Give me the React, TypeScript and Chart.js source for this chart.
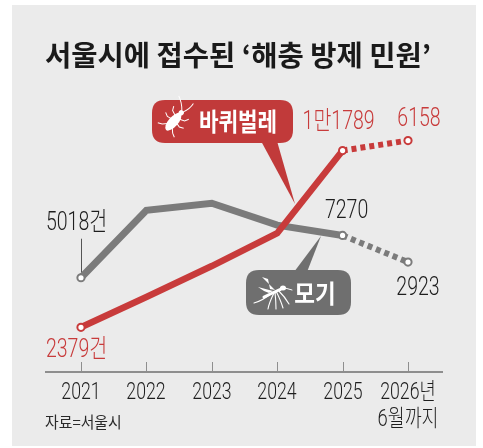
import React, { useEffect, useRef } from "react";
import { Chart, registerables } from "chart.js";
Chart.register(...registerables);

// ---- data ----
const years = [2021, 2022, 2023, 2024, 2025, 2026];
// 2026 plotted position (partial year, drawn dashed)
const roach = [2379, 3990, 5640, 7390, 11789, 12320];
const mosquito = [5018, 8610, 8980, 7820, 7270, 5850];
const roachLabels = ["2379건", "", "", "", "1만1789", "6158"];
const mosquitoLabels = ["5018건", "", "", "", "7270", "2923"];
const tickLabels = ["2021", "2022", "2023", "2024", "2025", "2026년"];
const tickSubLabels = ["", "", "", "", "", "6월까지"];
const titleText = "서울시에 접수된 ‘해충 방제 민원’";
const sourceText = "자료=서울시";
const roachName = "바퀴벌레";
const mosquitoName = "모기";

const RED = "#c83b3b";
const RED_BADGE = "#c13a3a";
const GRAY = "#7b7b7b";
const GRAY_BADGE = "#6f6f6f";
const TEXT = "#1e1e1e";
const DIG = "Roboto, 'Noto Sans CJK KR', sans-serif";
const KR = "'Noto Sans CJK KR', sans-serif";

function txt(
  ctx: CanvasRenderingContext2D,
  s: string,
  x: number,
  y: number,
  font: string,
  color: string,
  align: "left" | "center" | "right",
  sx = 1,
  fitWidth = 0
) {
  ctx.save();
  ctx.font = font;
  ctx.fillStyle = color;
  ctx.textBaseline = "middle";
  ctx.textAlign = "left";
  const raw = ctx.measureText(s).width;
  if (fitWidth > 0) sx = fitWidth / raw;
  const w = raw * sx;
  const left = align === "left" ? x : align === "center" ? x - w / 2 : x - w;
  ctx.translate(left, y);
  ctx.scale(sx, 1);
  ctx.fillText(s, 0, 0);
  ctx.restore();
}

function roundRect(ctx: CanvasRenderingContext2D, x: number, y: number, w: number, h: number, r: number) {
  ctx.beginPath();
  ctx.moveTo(x + r, y);
  ctx.lineTo(x + w - r, y);
  ctx.quadraticCurveTo(x + w, y, x + w, y + r);
  ctx.lineTo(x + w, y + h - r);
  ctx.quadraticCurveTo(x + w, y + h, x + w - r, y + h);
  ctx.lineTo(x + r, y + h);
  ctx.quadraticCurveTo(x, y + h, x, y + h - r);
  ctx.lineTo(x, y + r);
  ctx.quadraticCurveTo(x, y, x + r, y);
  ctx.closePath();
}

function drawRoach(ctx: CanvasRenderingContext2D, cx: number, cy: number) {
  ctx.save();
  ctx.translate(cx, cy);
  ctx.rotate(-0.85);
  ctx.fillStyle = "#fff";
  ctx.strokeStyle = "#fff";
  ctx.lineWidth = 1;
  ctx.beginPath();
  ctx.ellipse(-1, 0, 11, 4.8, 0, 0, Math.PI * 2);
  ctx.fill();
  ctx.beginPath();
  ctx.ellipse(11, 0, 2.6, 2.6, 0, 0, Math.PI * 2);
  ctx.fill();
  const legs = [
    [5, 3, 7, 8, 11, 10],
    [0, 4, -1, 8, 1, 12],
    [-6, 3, -10, 7, -12, 11],
    [5, -3, 7, -8, 11, -10],
    [0, -4, -1, -8, 1, -12],
    [-6, -3, -10, -7, -12, -11],
  ];
  legs.forEach((l) => {
    ctx.beginPath();
    ctx.moveTo(l[0], l[1]);
    ctx.lineTo(l[2], l[3]);
    ctx.lineTo(l[4], l[5]);
    ctx.stroke();
  });
  ctx.beginPath();
  ctx.moveTo(13, -1);
  ctx.quadraticCurveTo(19, -6, 22, -13);
  ctx.moveTo(13, 1);
  ctx.quadraticCurveTo(20, 4, 26, 3);
  ctx.stroke();
  ctx.restore();
}

function drawMosquito(ctx: CanvasRenderingContext2D, cx: number, cy: number) {
  ctx.save();
  ctx.translate(cx, cy);
  ctx.fillStyle = "#fff";
  ctx.strokeStyle = "#fff";
  // wings
  ctx.beginPath();
  ctx.moveTo(3, -2);
  ctx.lineTo(-10, -15);
  ctx.lineTo(-4, -13);
  ctx.lineTo(-2, -3);
  ctx.closePath();
  ctx.fill();
  ctx.beginPath();
  ctx.moveTo(1, -1);
  ctx.lineTo(-14, -5);
  ctx.lineTo(-8, -1);
  ctx.lineTo(-3, 1);
  ctx.closePath();
  ctx.fill();
  // body
  ctx.lineWidth = 3;
  ctx.lineCap = "round";
  ctx.beginPath();
  ctx.moveTo(-8, 5);
  ctx.lineTo(9, -3);
  ctx.stroke();
  ctx.beginPath();
  ctx.ellipse(11, -4, 3, 2.5, 0, 0, Math.PI * 2);
  ctx.fill();
  ctx.lineWidth = 1;
  ctx.beginPath();
  ctx.moveTo(13, -4);
  ctx.lineTo(20, -2);
  ctx.stroke();
  // legs
  ctx.lineWidth = 1.1;
  const legs = [
    [0, 1, -10, 9, -18, 11],
    [2, 1, -3, 11, -4, 17],
    [3, 0, 4, 10, 4, 17],
    [4, -1, 9, 9, 11, 16],
    [6, -2, 13, 5, 17, 12],
  ];
  legs.forEach((l) => {
    ctx.beginPath();
    ctx.moveTo(l[0], l[1]);
    ctx.quadraticCurveTo(l[2], l[3], l[4], l[5]);
    ctx.stroke();
  });
  ctx.restore();
}

const decor = {
  id: "decor",
  beforeDraw(chart: any) {
    const ctx = chart.ctx as CanvasRenderingContext2D;
    ctx.save();
    ctx.fillStyle = "#ffffff";
    ctx.fillRect(0, 0, chart.width, chart.height);
    ctx.fillStyle = "#ebebeb";
    ctx.fillRect(12, 5, 464, 441);
    ctx.restore();
  },
  beforeDatasetsDraw(chart: any) {
    const ctx = chart.ctx as CanvasRenderingContext2D;
    const xs = chart.scales.x;
    const ys = chart.scales.y;
    const area = chart.chartArea;
    const y0 = ys.getPixelForValue(0);
    ctx.save();
    ctx.strokeStyle = "#8e8e8e";
    ctx.lineWidth = 2;
    ctx.beginPath();
    ctx.moveTo(area.left, y0);
    ctx.lineTo(area.right, y0);
    ctx.stroke();
    ctx.lineWidth = 1;
    years.forEach((yr, i) => {
      const px = Math.round(xs.getPixelForValue(yr)) + 0.5;
      ctx.beginPath();
      ctx.moveTo(px, y0 - 10);
      ctx.lineTo(px, y0);
      ctx.stroke();
      txt(ctx, tickLabels[i], px - 0.5, y0 + 21, `300 23px ${DIG}`, TEXT, "center", 0.77);
      if (tickSubLabels[i]) {
        txt(ctx, tickSubLabels[i], px - 0.5, y0 + 48, `300 23px ${DIG}`, TEXT, "center", 0.8);
      }
    });
    txt(ctx, sourceText, area.left, y0 + 50, `16px ${KR}`, "#2a2a2a", "left", 0.93);

    txt(ctx, titleText, 45, 55, `bold 28px ${KR}`, "#1a1a1a", "left", 1, 386);

    const gm = chart.getDatasetMeta(1).data[0];
    ctx.strokeStyle = "#555";
    ctx.lineWidth = 1;
    ctx.beginPath();
    ctx.moveTo(Math.round(gm.x) + 0.5, gm.y - 39);
    ctx.lineTo(Math.round(gm.x) + 0.5, gm.y - 5);
    ctx.stroke();

    ctx.fillStyle = RED_BADGE;
    ctx.beginPath();
    ctx.moveTo(261, 141);
    ctx.lineTo(277, 141);
    ctx.lineTo(295, 204);
    ctx.closePath();
    ctx.fill();
    ctx.fillStyle = GRAY_BADGE;
    ctx.beginPath();
    ctx.moveTo(294, 272);
    ctx.lineTo(307, 272);
    ctx.lineTo(321, 236);
    ctx.closePath();
    ctx.fill();
    ctx.restore();
  },
  afterDatasetsDraw(chart: any) {
    const ctx = chart.ctx as CanvasRenderingContext2D;
    const rSolid = chart.getDatasetMeta(0).data;
    const gSolid = chart.getDatasetMeta(1).data;
    const rDash = chart.getDatasetMeta(2).data;
    const gDash = chart.getDatasetMeta(3).data;
    const F = `300 25px ${DIG}`;
    txt(ctx, roachLabels[0], rSolid[0].x - 35, rSolid[0].y + 23, F, RED, "left", 0.78);
    txt(ctx, roachLabels[4], rSolid[4].x - 4, rSolid[4].y - 28, F, RED, "center", 0.78);
    txt(ctx, roachLabels[5], rDash[1].x + 11, rDash[1].y - 21, F, RED, "center", 0.78);
    txt(ctx, mosquitoLabels[0], gSolid[0].x - 35, gSolid[0].y - 54, F, TEXT, "left", 0.78);
    txt(ctx, mosquitoLabels[4], gSolid[4].x + 4, gSolid[4].y - 24, F, TEXT, "center", 0.78);
    txt(ctx, mosquitoLabels[5], gDash[1].x + 10, gDash[1].y + 27, F, TEXT, "center", 0.78);

    ctx.save();
    ctx.fillStyle = RED_BADGE;
    roundRect(ctx, 152, 100, 141, 43, 13);
    ctx.fill();
    drawRoach(ctx, 174, 121);
    txt(ctx, roachName, 238, 121, `bold 25px ${KR}`, "#fff", "center", 0.85);

    ctx.fillStyle = GRAY_BADGE;
    roundRect(ctx, 246, 270, 105, 45, 13);
    ctx.fill();
    drawMosquito(ctx, 272, 292);
    txt(ctx, mosquitoName, 315, 293, `bold 25px ${KR}`, "#fff", "center", 0.9);
    ctx.restore();
  },
};

const pts = (vals: number[], from: number, to: number) =>
  years.slice(from, to).map((y, i) => ({ x: y, y: vals[from + i] }));

export default function App() {
  const ref = useRef<HTMLCanvasElement>(null);
  useEffect(() => {
    document.body.style.margin = "0";
    const canvas = ref.current!;
    const common = {
      borderCapStyle: "butt" as const,
      borderJoinStyle: "miter" as const,
      pointBackgroundColor: "#ffffff",
      pointBorderWidth: 2,
      pointHoverRadius: 0,
      tension: 0,
      fill: false,
    };
    const chart = new Chart(canvas, {
      type: "line",
      data: {
        datasets: [
          {
            ...common,
            data: pts(roach, 0, 5),
            borderColor: RED,
            borderWidth: 6.5,
            pointBorderColor: RED,
            pointRadius: [3.6, 0, 0, 0, 3.6],
          },
          {
            ...common,
            data: pts(mosquito, 0, 5),
            borderColor: GRAY,
            borderWidth: 7,
            pointBorderColor: GRAY,
            pointRadius: [3.6, 0, 0, 0, 3.6],
          },
          {
            ...common,
            data: pts(roach, 4, 6),
            borderColor: RED,
            borderWidth: 6,
            borderDash: [5, 4],
            pointBorderColor: RED,
            pointRadius: [0, 3.6],
          },
          {
            ...common,
            data: pts(mosquito, 4, 6),
            borderColor: GRAY,
            borderWidth: 6,
            borderDash: [5, 4],
            pointBorderColor: GRAY,
            pointRadius: [0, 3.6],
          },
        ],
      },
      options: {
        responsive: false,
        animation: false,
        events: [],
        layout: { padding: { left: 45, right: 40, top: 109, bottom: 76 } },
        scales: {
          x: { type: "linear", min: 2020.45, max: 2026.535, display: false },
          y: { min: 0, max: 14000, display: false },
        },
        plugins: { legend: { display: false }, tooltip: { enabled: false }, title: { display: false } },
      },
      plugins: [decor],
    });
    return () => chart.destroy();
  }, []);
  return <canvas ref={ref} width={483} height={448} style={{ display: "block" }} />;
}
